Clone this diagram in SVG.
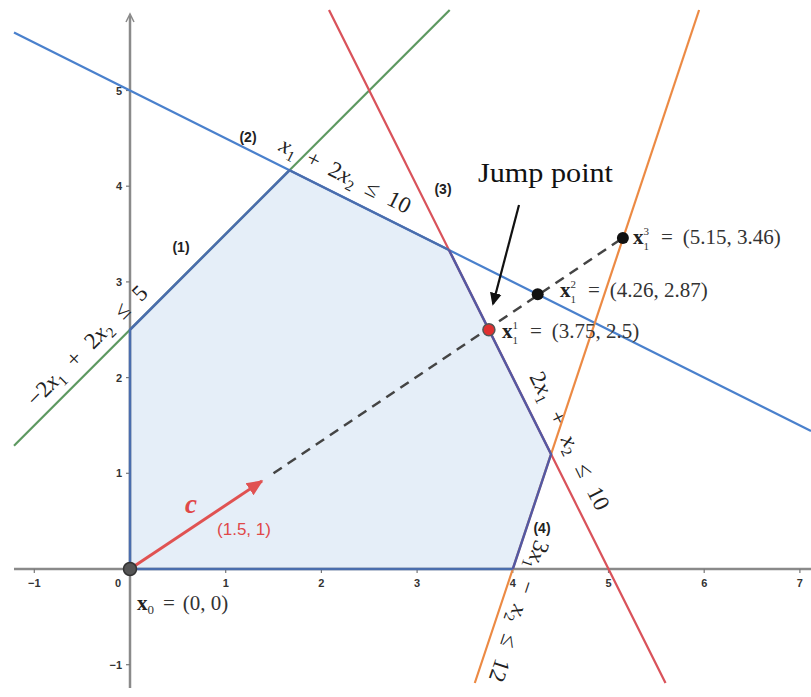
<svg xmlns="http://www.w3.org/2000/svg" width="811" height="697" viewBox="0 0 811 697">
<defs>
<style>
.axis{stroke:#8a8a8a;stroke-width:2.5;fill:none}
.tick{stroke:#777;stroke-width:1.2}
.tl{font-family:"Liberation Sans",Arial,sans-serif;font-size:11px;fill:#333;font-weight:bold}
.num{font-family:"Liberation Sans",Arial,sans-serif;font-size:14px;fill:#222;font-weight:bold}
.math{font-family:"Liberation Serif","Times New Roman",serif;font-size:23px;fill:#222}
.it{font-style:italic}
.sub{font-size:15px}
.lbl{font-family:"Liberation Serif","Times New Roman",serif;font-size:21px;fill:#333}
.b{font-weight:bold;fill:#222}
.ss{font-size:11px}
.ln{fill:none;stroke-width:2.2}
</style>
<marker id="redhead" markerWidth="6" markerHeight="6" refX="5" refY="3" orient="auto" markerUnits="strokeWidth">
<path d="M0,0.6 L5.5,3 L0,5.4 Z" fill="#e05252"/>
</marker>
<marker id="blkhead" markerWidth="6" markerHeight="6" refX="5" refY="3" orient="auto" markerUnits="strokeWidth">
<path d="M0,0.3 L5.8,3 L0,5.7 Z" fill="#111"/>
</marker>
</defs>
<rect width="811" height="697" fill="#fff"/>

<g id="region">
<polygon points="130,569 130,329.75 289.5,170.25 449,250 551.1,454.2 512.8,569" fill="#e5eef8"/>
</g>

<g id="axes">
<line class="axis" x1="14" y1="569" x2="811" y2="569"/>
<line class="axis" x1="130" y1="16" x2="130" y2="688"/>
<path d="M126,22 L130,14 L134,22" fill="none" stroke="#8a8a8a" stroke-width="1.5"/>
<g class="tick">
<line x1="34.3" y1="569" x2="34.3" y2="573"/>
<line x1="225.7" y1="569" x2="225.7" y2="573"/>
<line x1="321.4" y1="569" x2="321.4" y2="573"/>
<line x1="417.1" y1="569" x2="417.1" y2="573"/>
<line x1="512.8" y1="569" x2="512.8" y2="573"/>
<line x1="608.5" y1="569" x2="608.5" y2="573"/>
<line x1="704.2" y1="569" x2="704.2" y2="573"/>
<line x1="799.9" y1="569" x2="799.9" y2="573"/>
<line x1="126" y1="473.3" x2="130" y2="473.3"/>
<line x1="126" y1="377.6" x2="130" y2="377.6"/>
<line x1="126" y1="281.9" x2="130" y2="281.9"/>
<line x1="126" y1="186.2" x2="130" y2="186.2"/>
<line x1="126" y1="90.5" x2="130" y2="90.5"/>
<line x1="126" y1="664.7" x2="130" y2="664.7"/>
</g>
<g class="tl" text-anchor="middle">
<text x="34.3" y="587">−1</text>
<text x="118" y="587">0</text>
<text x="225.7" y="587">1</text>
<text x="321.4" y="587">2</text>
<text x="417.1" y="587">3</text>
<text x="512.8" y="587">4</text>
<text x="608.5" y="587">5</text>
<text x="704.2" y="587">6</text>
<text x="799.9" y="587">7</text>
</g>
<g class="tl" text-anchor="end">
<text x="122" y="477.3">1</text>
<text x="122" y="381.6">2</text>
<text x="122" y="285.9">3</text>
<text x="122" y="190.2">4</text>
<text x="122" y="94.5">5</text>
<text x="122" y="668.7">−1</text>
</g>
</g>

<g id="constraint1">
<line class="ln" x1="14" y1="445.7" x2="449.7" y2="10" stroke="#5d9960"/>
<text class="num" x="181" y="252" text-anchor="middle">(1)</text>
<text class="math" x="92.5" y="351" text-anchor="middle" transform="rotate(-45 92.5 351)" font-size="24">−2<tspan class="it">x</tspan><tspan class="sub" dy="5">1</tspan><tspan dy="-5" dx="13">+</tspan><tspan dx="13">2</tspan><tspan class="it">x</tspan><tspan class="sub" dy="5">2</tspan><tspan dy="-5" dx="13">≤</tspan><tspan dx="13">5</tspan></text>
</g>

<g id="constraint2">
<line class="ln" x1="14" y1="32.5" x2="811" y2="431" stroke="#4a80cc" stroke-width="2.5"/>
<text class="num" x="248" y="142" text-anchor="middle">(2)</text>
<text class="math" x="342" y="182" text-anchor="middle" transform="rotate(26.57 342 182)"><tspan class="it">x</tspan><tspan class="sub" dy="5">1</tspan><tspan dy="-5" dx="12">+</tspan><tspan dx="12">2</tspan><tspan class="it">x</tspan><tspan class="sub" dy="5">2</tspan><tspan dy="-5" dx="12">≤</tspan><tspan dx="12">10</tspan></text>
</g>

<g id="constraint3">
<line class="ln" x1="329" y1="10" x2="665.5" y2="683" stroke="#d9525a"/>
<text class="num" x="443" y="194" text-anchor="middle">(3)</text>
<text class="math" x="563" y="444.4" text-anchor="middle" transform="rotate(63.43 563 444.4)">2<tspan class="it">x</tspan><tspan class="sub" dy="5">1</tspan><tspan dy="-5" dx="14">+</tspan><tspan class="it" dx="14">x</tspan><tspan class="sub" dy="5">2</tspan><tspan dy="-5" dx="14">≤</tspan><tspan dx="14">10</tspan></text>
</g>

<g id="constraint4">
<line class="ln" x1="699.1" y1="10" x2="474.8" y2="683" stroke="#ec8a44"/>
<text class="num" x="542" y="533" text-anchor="middle">(4)</text>
<text class="math" x="512" y="609" text-anchor="middle" transform="rotate(108.43 512 609)">3<tspan class="it">x</tspan><tspan class="sub" dy="5">1</tspan><tspan dy="-5" dx="13">−</tspan><tspan class="it" dx="13">x</tspan><tspan class="sub" dy="5">2</tspan><tspan dy="-5" dx="13">≤</tspan><tspan dx="13">12</tspan></text>
</g>

<g id="region-edges" fill="none" stroke-width="2.5" stroke-linejoin="round">
<polyline points="512.8,569 130,569 130,329.75 289.5,170.25 449,250" stroke="#4a6dad"/>
<polyline points="449,250 551.1,454.2 512.8,569" stroke="#5459a3"/>
</g>

<g id="connectors">
<line x1="273.5" y1="473.3" x2="622.9" y2="237.9" stroke="#444" stroke-width="2.5" stroke-dasharray="10,7"/>
<line x1="130" y1="569" x2="262" y2="481" stroke="#e05252" stroke-width="3" marker-end="url(#redhead)"/>
<line x1="519" y1="205" x2="493" y2="304" stroke="#111" stroke-width="2.2" marker-end="url(#blkhead)"/>
</g>

<g id="vector-c">
<text x="185" y="513" font-family="'Liberation Serif','Times New Roman',serif" font-size="27" font-style="italic" font-weight="bold" fill="#e04848">c</text>
<text x="244" y="535" text-anchor="middle" font-family="'Liberation Sans',Arial,sans-serif" font-size="17" fill="#e04848">(1.5, 1)</text>
</g>

<g id="x0">
<circle cx="130" cy="569" r="6.5" fill="#555" stroke="#333" stroke-width="1.5"/>
<text class="lbl" x="137" y="610"><tspan class="b">x</tspan><tspan font-size="13" dy="4">0</tspan><tspan dy="-4" dx="9">=</tspan><tspan dx="8">(0, 0)</tspan></text>
</g>

<g id="x1-1">
<circle cx="488.9" cy="329.75" r="6" fill="#e03030" stroke="#555" stroke-width="1.5"/>
<text class="lbl" x="502" y="338"><tspan class="b">x</tspan><tspan class="ss" dy="6">1</tspan><tspan dy="-6" dx="12">=</tspan><tspan dx="10">(3.75, 2.5)</tspan></text>
<text class="lbl ss" x="512.5" y="329">1</text>
</g>

<g id="x1-2">
<circle cx="537.7" cy="294.3" r="6" fill="#111"/>
<text class="lbl" x="560" y="297"><tspan class="b">x</tspan><tspan class="ss" dy="6">1</tspan><tspan dy="-6" dx="12">=</tspan><tspan dx="10">(4.26, 2.87)</tspan></text>
<text class="lbl ss" x="570.5" y="288">2</text>
</g>

<g id="x1-3">
<circle cx="622.9" cy="237.9" r="6" fill="#111"/>
<text class="lbl" x="633" y="244"><tspan class="b">x</tspan><tspan class="ss" dy="6">1</tspan><tspan dy="-6" dx="12">=</tspan><tspan dx="10">(5.15, 3.46)</tspan></text>
<text class="lbl ss" x="643.5" y="235">3</text>
</g>

<g id="jump-point">
<text x="545.5" y="182" text-anchor="middle" font-family="'Liberation Serif','Times New Roman',serif" font-size="28" fill="#111" textLength="135" lengthAdjust="spacingAndGlyphs">Jump point</text>
</g>
</svg>
